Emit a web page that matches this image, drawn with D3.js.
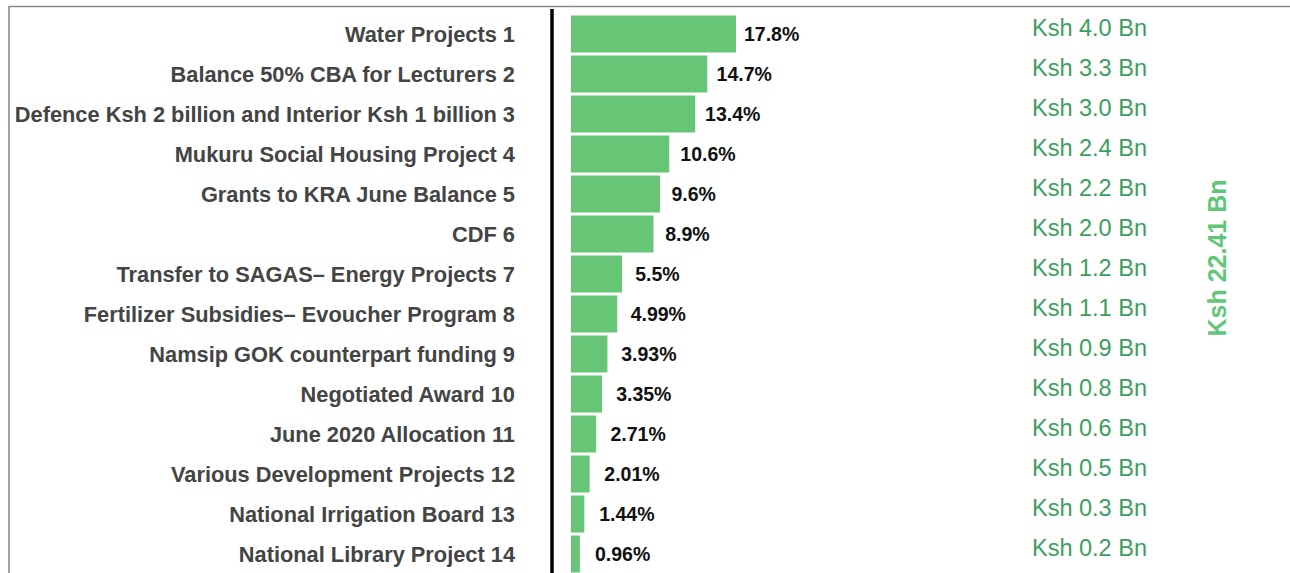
<!DOCTYPE html>
<html>
<head>
<meta charset="utf-8">
<script src="https://d3js.org/d3.v7.min.js"></script>
<style>
  body { margin: 0; background: #fff; }
  svg { display: block; font-family: "Liberation Sans", Arial, sans-serif; }
</style>
</head>
<body>
<div id="chart"></div>
<script>
// Width and height of the canvas
var w = 1290, h = 573;

// data
var projects = ["Water Projects 1", "Balance 50% CBA for Lecturers 2",
    "Defence Ksh 2 billion and Interior Ksh 1 billion 3", "Mukuru Social Housing Project 4",
    "Grants to KRA June Balance 5", "CDF 6", "Transfer to SAGAS\u2013 Energy Projects 7",
    "Fertilizer Subsidies\u2013 Evoucher Program 8", "Namsip GOK counterpart funding 9",
    "Negotiated Award 10", "June 2020 Allocation 11", "Various Development Projects 12",
    "National Irrigation Board 13", "National Library Project 14"];
var shares = [17.8, 14.7, 13.4, 10.6, 9.6, 8.9, 5.5, 4.99, 3.93, 3.35, 2.71, 2.01, 1.44, 0.96];
var shareLabels = ["17.8%", "14.7%", "13.4%", "10.6%", "9.6%", "8.9%", "5.5%", "4.99%",
    "3.93%", "3.35%", "2.71%", "2.01%", "1.44%", "0.96%"];
var amounts = [4.0, 3.3, 3.0, 2.4, 2.2, 2.0, 1.2, 1.1, 0.9, 0.8, 0.6, 0.5, 0.3, 0.2];
var total = "Ksh 22.41 Bn";

var barColor = "#66c676";

// scales
var yScale = d3.scaleBand().domain(projects).range([14, 574])
    .paddingInner(0.075).paddingOuter(0.0375);
var xScale = d3.scaleLinear().domain([0, 17.8]).range([571, 736]);
// label position drifts a bit from the bar end in the original
var labelScale = d3.scaleLinear().domain([0, 17.8]).range([586.5, 744]);

var svg = d3.select("#chart").append("svg")
    .attr("width", w).attr("height", h);

// frame
svg.append("line").attr("x1", 9).attr("x2", w).attr("y1", 6.5).attr("y2", 6.5)
    .style("stroke", "#8a8a8a").style("stroke-width", 1.6);
svg.append("line").attr("x1", 9).attr("x2", 9).attr("y1", 6).attr("y2", h)
    .style("stroke", "#8a8a8a").style("stroke-width", 1.6);

var rows = projects.map(function(p, i) {
    return {name: p, share: shares[i], label: shareLabels[i], amount: amounts[i]};
});

// bars
svg.selectAll("rect.bar")
    .data(rows)
    .enter()
    .append("rect")
    .attr("class", "bar")
    .attr("x", xScale(0))
    .attr("y", function(d) { return yScale(d.name); })
    .attr("width", function(d) { return xScale(d.share) - xScale(0); })
    .attr("height", yScale.bandwidth())
    .style("fill", barColor);

// y axis line
svg.append("line").attr("x1", 552).attr("x2", 552).attr("y1", 9).attr("y2", h)
    .style("stroke", "#000").style("stroke-width", 3.5);

// category labels
svg.selectAll("text.cat")
    .data(rows)
    .enter()
    .append("text")
    .attr("class", "cat")
    .attr("x", 515)
    .attr("y", function(d) { return yScale(d.name) + yScale.bandwidth() / 2; })
    .attr("dy", "0.35em")
    .attr("text-anchor", "end")
    .style("font-size", "21.8px")
    .style("font-weight", "bold")
    .style("fill", "#444")
    .text(function(d) { return d.name; });

// percent labels
svg.selectAll("text.pct")
    .data(rows)
    .enter()
    .append("text")
    .attr("class", "pct")
    .attr("x", function(d) { return labelScale(d.share); })
    .attr("y", function(d) { return yScale(d.name) + yScale.bandwidth() / 2; })
    .attr("dy", "0.36em")
    .style("font-size", "19.5px")
    .style("font-weight", "bold")
    .style("fill", "#111")
    .text(function(d) { return d.label; });

// amounts
svg.selectAll("text.amt")
    .data(rows)
    .enter()
    .append("text")
    .attr("class", "amt")
    .attr("x", 1032)
    .attr("y", function(d) { return yScale(d.name) + yScale.bandwidth() / 2 - 6; })
    .attr("dy", "0.36em")
    .style("font-size", "23.5px")
    .style("fill", "#3c9e60")
    .text(function(d) { return "Ksh " + d3.format(".1f")(d.amount) + " Bn"; });

// total
svg.append("text")
    .attr("transform", "translate(1217,258) rotate(-90)")
    .attr("text-anchor", "middle")
    .attr("dy", "0.36em")
    .style("font-size", "25px")
    .style("font-weight", "bold")
    .style("fill", "#62c67a")
    .text(total);
</script>
</body>
</html>
